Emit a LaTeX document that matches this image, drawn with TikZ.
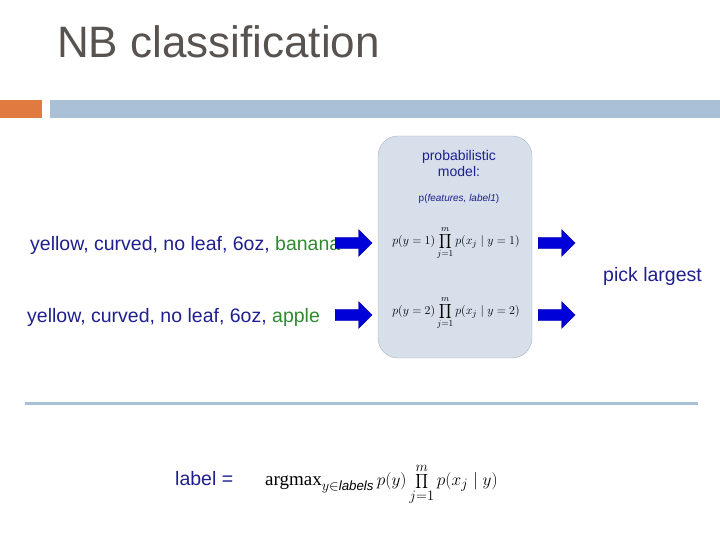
\documentclass[tikz,border=0pt]{standalone}
\usepackage{fontspec}
\setmainfont{Liberation Sans}
\newfontfamily\serif{Liberation Serif}
\usetikzlibrary{shapes.arrows}
\definecolor{txt}{HTML}{1F1F8F}
\definecolor{ttl}{HTML}{595350}
\definecolor{grn}{HTML}{2E8B2E}
\definecolor{boxf}{HTML}{D6DFEA}
\definecolor{boxd}{HTML}{A9B6C8}
\definecolor{barb}{HTML}{A9C0D6}
\definecolor{baro}{HTML}{E07A40}
\tikzset{
 blk/.style={single arrow,draw=blue!60!black,fill=blue!85!black,minimum height=37pt,minimum width=27pt,single arrow head extend=3pt,inner sep=2pt,single arrow tip angle=90,anchor=west},
 lbl/.style={font=\fontsize{19.5}{22}\selectfont,text=txt,anchor=west,inner sep=0},
 frm/.style={font=\fontsize{13}{16}\selectfont,inner sep=0}
}
\begin{document}
\begin{tikzpicture}[x=1pt,y=-1pt]
\useasboundingbox (0,0) rectangle (720,540);
\clip (0,0) rectangle (720,540);
\node[anchor=west,text=ttl,font=\fontsize{44}{48}\selectfont,inner sep=0] (title) at (57,42) {NB classification};
\fill[baro] (0,100) rectangle (42,118);
\fill[barb] (50,100) rectangle (720,118);
\node[draw=boxd,fill=boxf,rounded corners=20pt,minimum width=154pt,minimum height=222pt,inner sep=0] (box) at (455,247) {};
\node[font=\fontsize{14}{16}\selectfont,text=txt,align=center,inner sep=0] (pm) at (459,163) {probabilistic\\model:};
\node[font=\fontsize{10}{12}\selectfont,text=txt,inner sep=0] (pf) at (459,199) {p(\textit{features, label1})};
\node[frm] (f1) at (456,243) {$\displaystyle p(y=1)\prod_{j=1}^{m} p(x_j\mid y=1)$};
\node[frm] (f2) at (456,313) {$\displaystyle p(y=2)\prod_{j=1}^{m} p(x_j\mid y=2)$};
\node[lbl] (t1) at (30,245) {yellow, curved, no leaf, 6oz, \textcolor{grn}{banana}};
\node[lbl] (t2) at (27,317) {yellow, curved, no leaf, 6oz, \textcolor{grn}{apple}};
\node[blk] (a1) at (335,243) {};
\node[blk] (a2) at (335,315) {};
\node[blk] (a3) at (538,243) {};
\node[blk] (a4) at (538,315) {};
\node[lbl] (pick) at (603,276) {pick largest};
\draw[barb,line width=3pt] (25,403) -- (698,403);
\node[lbl] (lab) at (175,479) {label =};
\node[frm,anchor=west,font=\fontsize{19}{22}\selectfont] (eq) at (265,484) {$\displaystyle \mbox{\serif argmax}_{y\in \mathit{labels}}\, p(y)\prod_{j=1}^{m} p(x_j\mid y)$};
\end{tikzpicture}
\end{document}
